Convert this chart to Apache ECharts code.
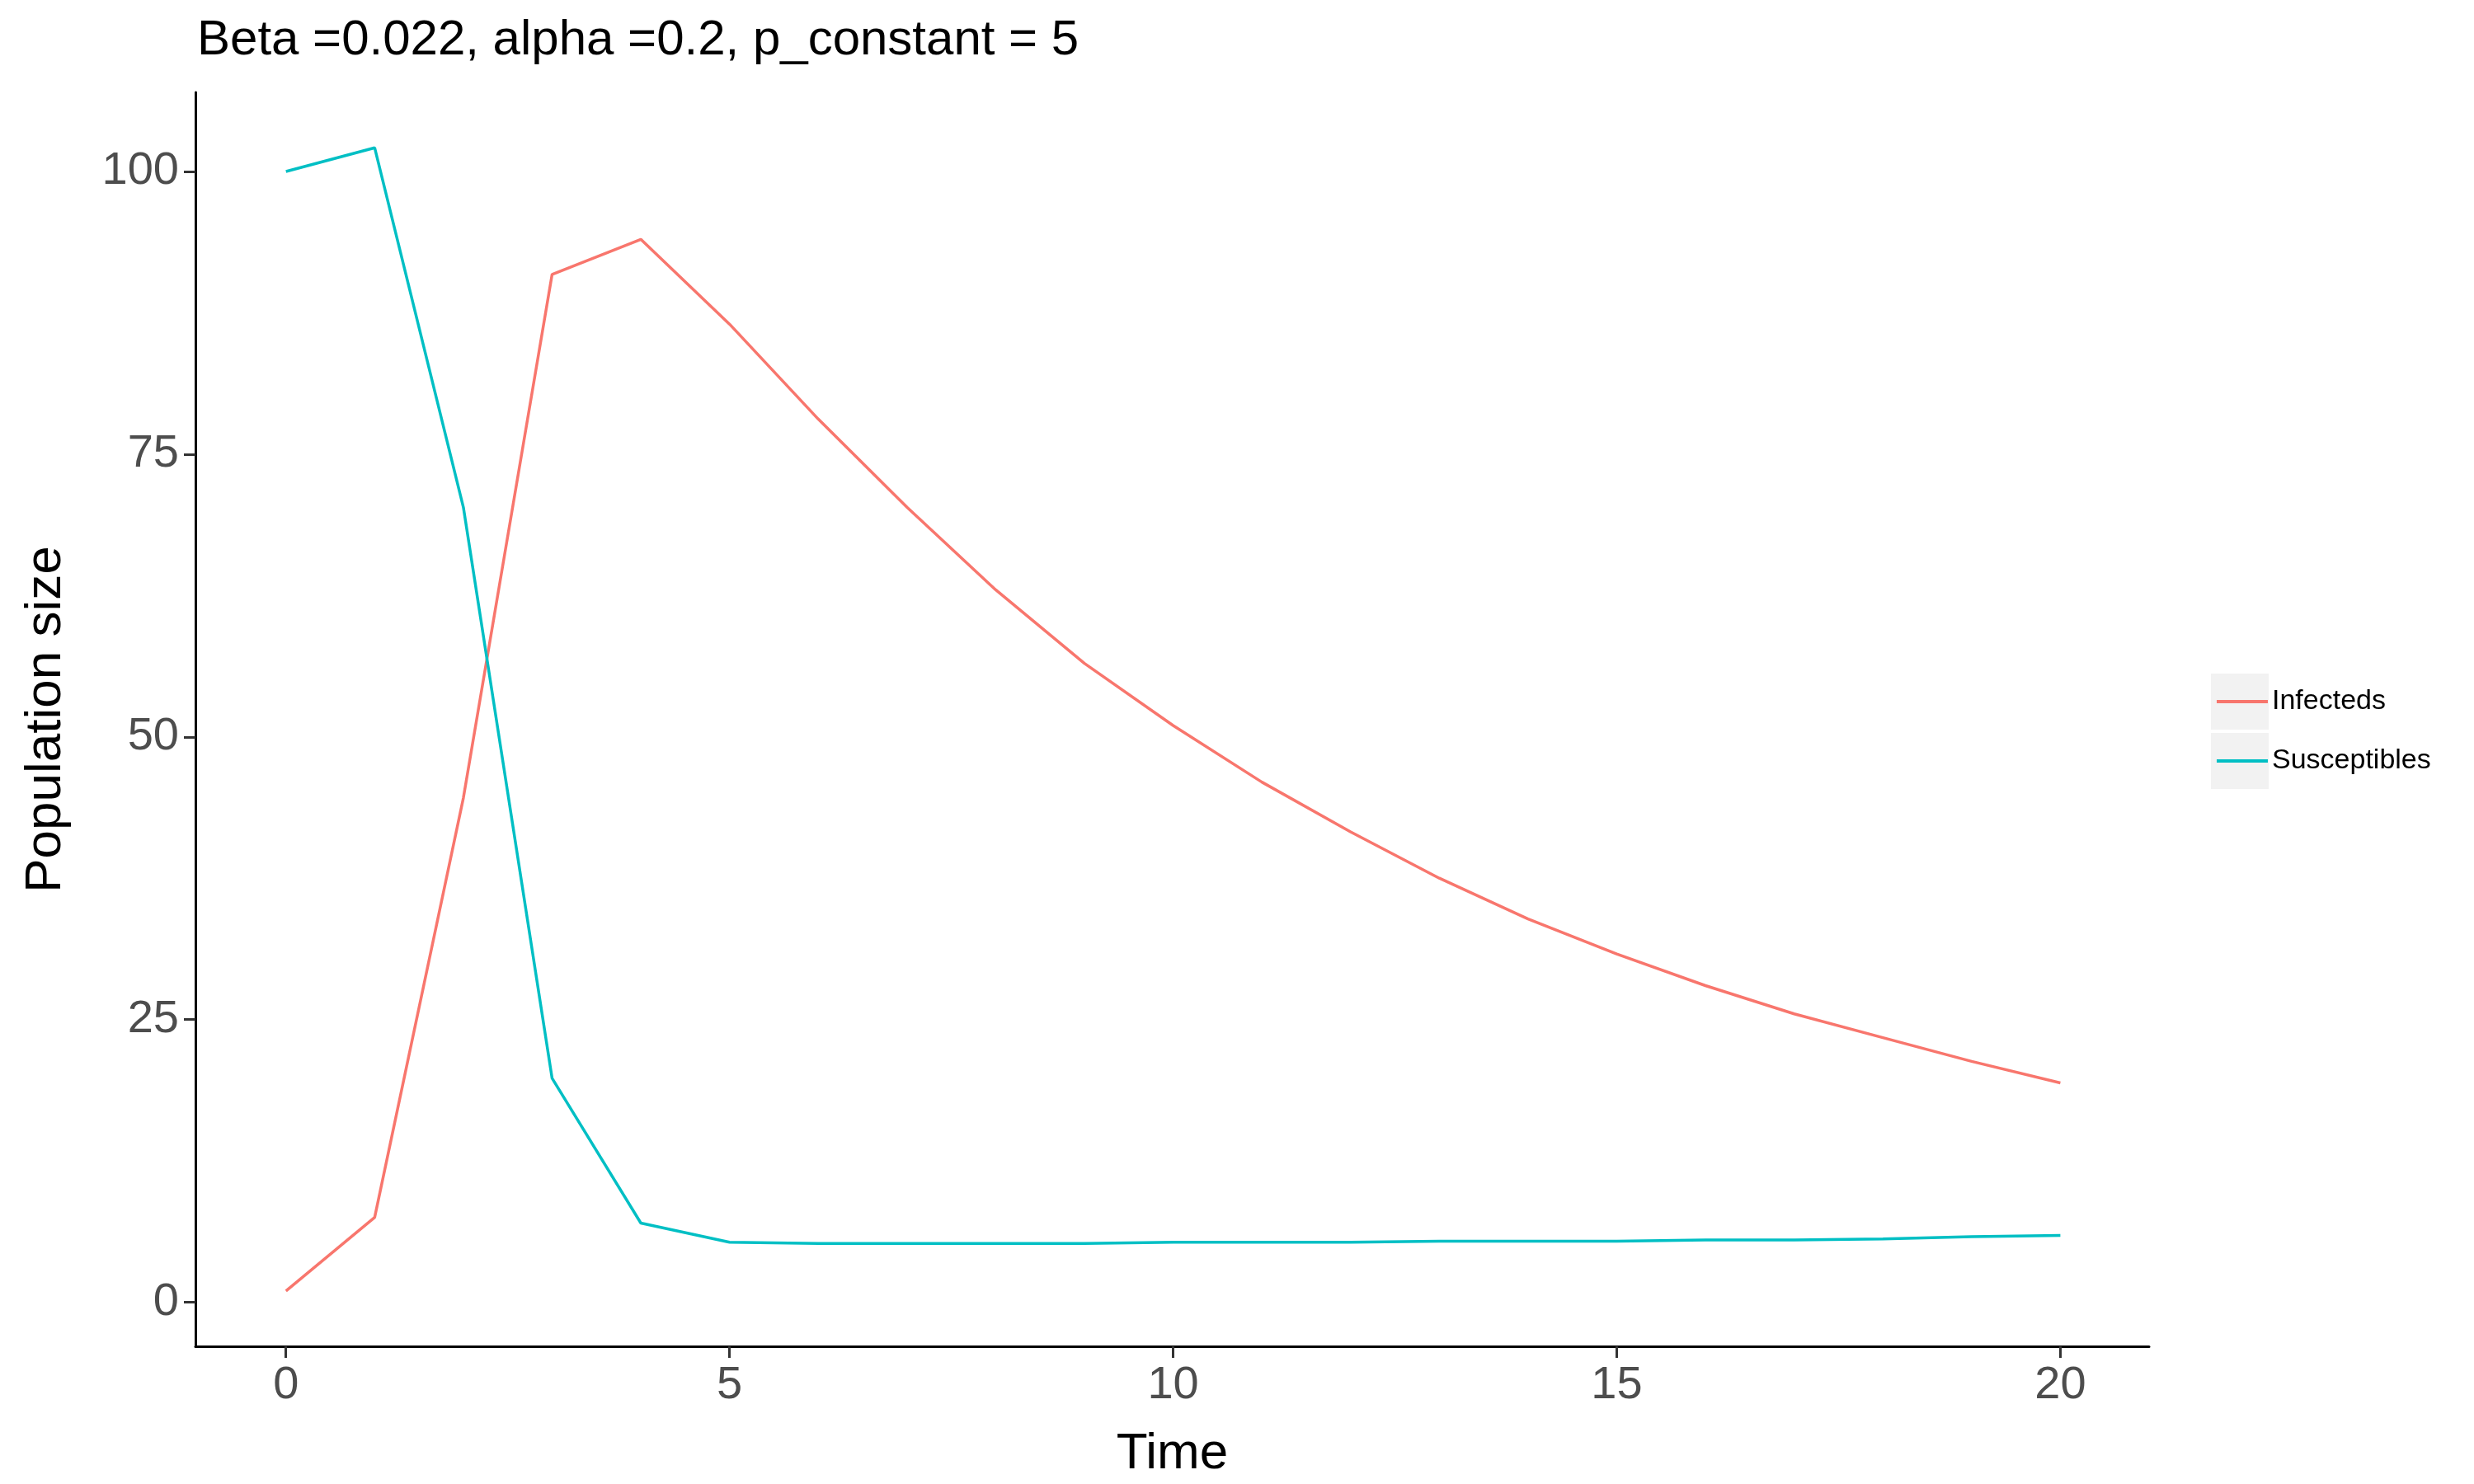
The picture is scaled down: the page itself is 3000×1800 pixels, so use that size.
<!DOCTYPE html>
<html style="height: 100%">
<head><meta charset="utf-8"></head>
<body style="height: 100%; margin: 0; background: #fff">
<div id="container" style="width: 3000px; height: 1800px"></div>
<script src="https://cdn.jsdelivr.net/npm/echarts@6/dist/echarts.min.js"></script>
<script>
var times = [0,1,2,3,4,5,6,7,8,9,10,11,12,13,14,15,16,17,18,19,20];
var infecteds = [1.0,7.5,44.6,90.9,94.0,86.5,78.1,70.3,63.0,56.5,51.0,46.0,41.6,37.5,33.9,30.8,28.0,25.5,23.4,21.3,19.4];
var susceptibles = [100,102.1,70.3,19.8,7.0,5.3,5.2,5.2,5.2,5.2,5.3,5.3,5.3,5.4,5.4,5.4,5.5,5.5,5.6,5.8,5.9];
var xTicks = [0,5,10,15,20];
var yTicks = [0,25,50,75,100];

function pairs(ys) { return times.map(function (t, i) { return [t, ys[i]]; }); }

var myChart = echarts.init(document.getElementById('container'));
var font = 'Liberation Sans, Arial, sans-serif';
function legendFor(name, top) {
    return {
        left: 2683, top: top, itemWidth: 62, itemHeight: 4, itemGap: 0,
        icon: 'rect', data: [name],
        textStyle: {fontFamily: font, fontSize: 34, color: '#000', lineHeight: 40, padding: [0, 0, 0, 0]}
    };
}
var option = {
    animation: false,
    title: {
        text: 'Beta =0.022, alpha =0.2, p_constant = 5',
        left: 234, top: 14,
        textStyle: {fontFamily: font, fontSize: 60, fontWeight: 'normal', color: '#000'}
    },
    graphic: [
        {type: 'rect', shape: {x: 2681, y: 817, width: 70, height: 68}, style: {fill: '#f2f2f2'}},
        {type: 'rect', shape: {x: 2681, y: 889, width: 70, height: 68}, style: {fill: '#f2f2f2'}}
    ],
    legend: [legendFor('Infecteds', 826), legendFor('Susceptibles', 898)],
    grid: {left: 237, right: 394, top: 112, bottom: 159},
    xAxis: {
        type: 'value', min: -1.02, max: 21.0,
        name: 'Time', nameLocation: 'middle', nameGap: 100,
        nameTextStyle: {fontFamily: font, fontSize: 62, color: '#000'},
        axisLine: {onZero: false, lineStyle: {color: '#000', width: 3}},
        axisTick: {show: true, length: 14, lineStyle: {color: '#333', width: 3}, customValues: xTicks},
        axisLabel: {fontFamily: font, fontSize: 56, color: '#4d4d4d', margin: 20, customValues: xTicks},
        splitLine: {show: false}
    },
    yAxis: {
        type: 'value', min: -3.9, max: 107,
        name: 'Population size', nameLocation: 'middle', nameGap: 150,
        nameTextStyle: {fontFamily: font, fontSize: 62, color: '#000'},
        axisLine: {show: true, onZero: false, lineStyle: {color: '#000', width: 3}},
        axisTick: {show: true, length: 14, lineStyle: {color: '#333', width: 3}, customValues: yTicks},
        axisLabel: {fontFamily: font, fontSize: 56, color: '#4d4d4d', margin: 20, customValues: yTicks},
        splitLine: {show: false}
    },
    series: [
        {name: 'Infecteds', type: 'line', data: pairs(infecteds), showSymbol: false,
         color: '#F8766D', lineStyle: {width: 3.5, color: '#F8766D'},
         itemStyle: {color: '#F8766D'}},
        {name: 'Susceptibles', type: 'line', data: pairs(susceptibles), showSymbol: false,
         color: '#00BFC4', lineStyle: {width: 3.5, color: '#00BFC4'},
         itemStyle: {color: '#00BFC4'}}
    ]
};
myChart.setOption(option);
</script>
</body>
</html>
